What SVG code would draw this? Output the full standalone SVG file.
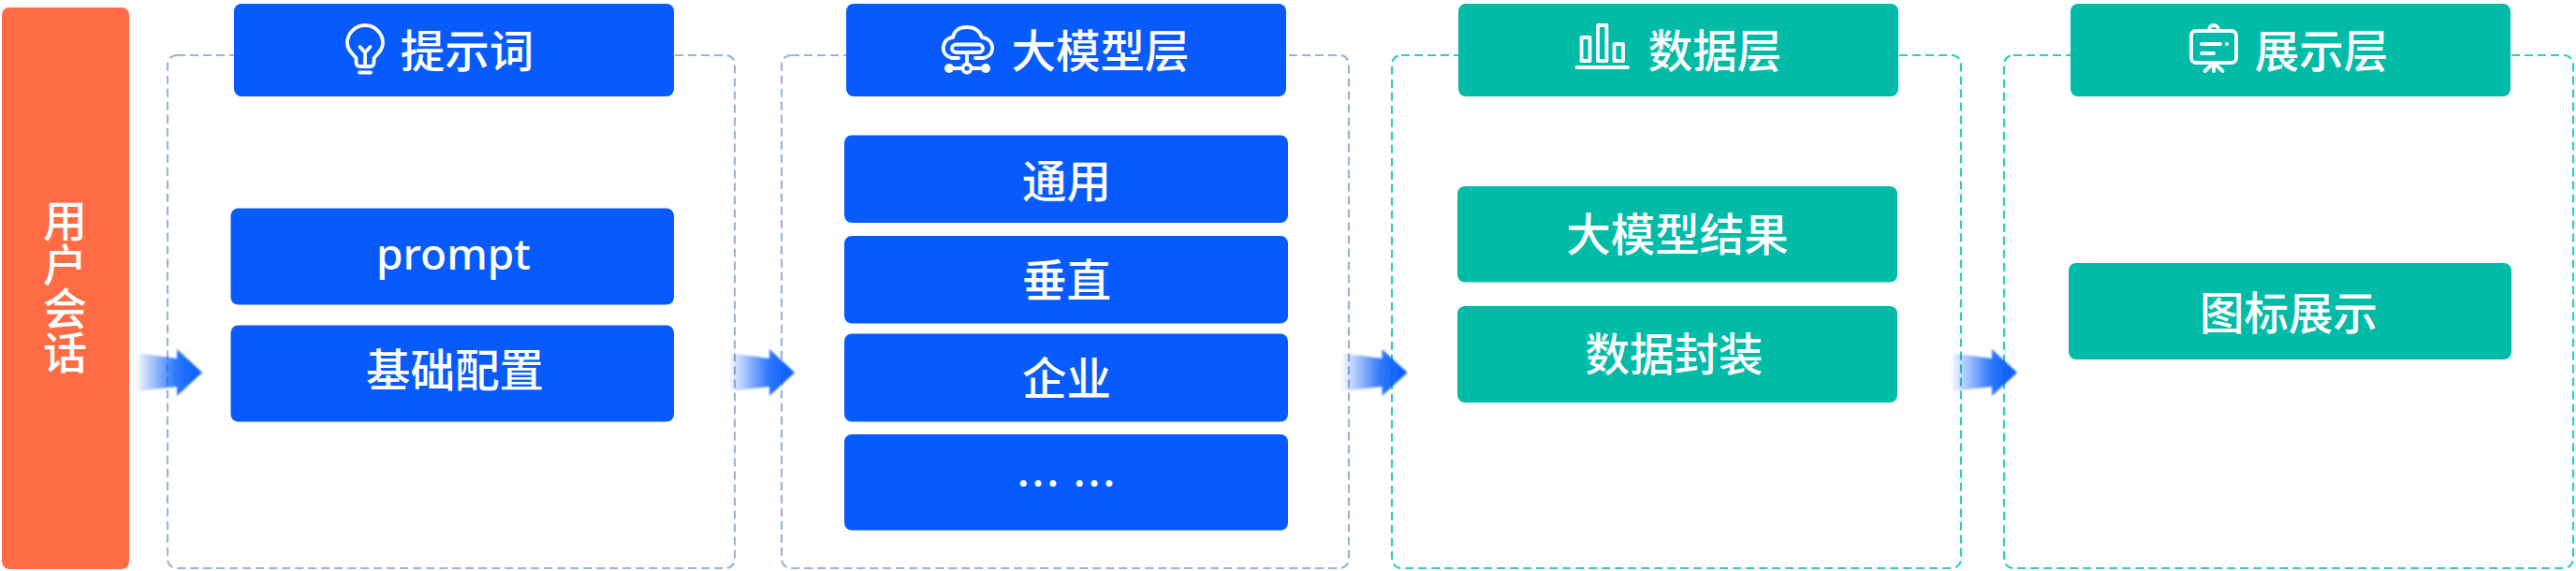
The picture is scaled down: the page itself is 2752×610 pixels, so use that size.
<svg xmlns="http://www.w3.org/2000/svg" width="2752" height="610" viewBox="0 0 2752 610">
<style>
text{font-family:"Noto Sans CJK SC","Noto Sans",sans-serif;font-size:47.500px;font-weight:500;fill:#fff;text-anchor:middle;dominant-baseline:central}
.b{fill:#075afb}.t{fill:#00bba8}
.fb{fill:none;stroke:#99b4d6;stroke-width:2.200;stroke-dasharray:9 5}
.ft{fill:none;stroke:#30cdba;stroke-width:2.200;stroke-dasharray:9 5}
.i{fill:none;stroke:#fff;stroke-width:3.800;stroke-linecap:round;stroke-linejoin:round}
.d{fill:#fff}
</style>
<defs>
<linearGradient id="ag" x1="0" x2="1" y1="0" y2="0">
<stop offset="0" stop-color="#075afb" stop-opacity="0"/>
<stop offset="0.15" stop-color="#075afb" stop-opacity="0.22"/>
<stop offset="0.6" stop-color="#075afb" stop-opacity="0.82"/>
<stop offset="1" stop-color="#075afb"/>
</linearGradient>
<filter id="soft" x="-10%" y="-10%" width="120%" height="120%"><feGaussianBlur stdDeviation="1"/></filter>
<path id="arrow" d="M0 -21 L44 -15 L44 -25 L71 0 L44 25 L44 15 L0 20 Z" fill="url(#ag)" filter="url(#soft)"/>
</defs>
<rect width="2752" height="610" fill="#fff"/>

<g id="user-session">
<rect x="2" y="8" width="136" height="600" rx="8" fill="#ff6b45"/>
<text x="69.500" y="306" style="writing-mode:vertical-rl;text-orientation:upright;font-size:47px;dominant-baseline:auto">用户会话</text>
</g>

<g id="prompt-layer">
<rect class="fb" x="179" y="59" width="606" height="548" rx="10"/>
<rect class="b" x="250" y="4" width="470" height="99" rx="8"/>
<g class="i">
<path d="M380.500 66.500 V62 C376 57 371 53 371 46 A19 19 0 0 1 409 46 C409 53 404 57 399.500 62 V66.500 Q399.500 71 395 71 H385 Q380.500 71 380.500 66.500 Z"/>
<path d="M390 70 V56 M384.500 50 L390 56 L395.500 50 M384 77.500 H396"/>
</g>
<text x="499" y="51">提示词</text>
<rect class="b" x="246.500" y="222.500" width="473.500" height="103" rx="8"/>
<text x="484.500" y="270" style="font-family:'Noto Sans',sans-serif;font-size:46px">prompt</text>
<rect class="b" x="246.500" y="347.500" width="473.500" height="103" rx="8"/>
<text x="486" y="392">基础配置</text>
</g>

<g id="model-layer">
<rect class="fb" x="835" y="59" width="606" height="548" rx="10"/>
<rect class="b" x="904" y="4" width="470" height="99" rx="8"/>
<g class="i">
<path d="M1017 62 C1009 60 1007 54 1008 49 C1009 43 1014 40 1018 40 C1019 32 1026 29 1033 29 C1041 29 1047 33 1049 40 C1054 40 1059 44 1060 49 C1061 55 1058 60 1051 62 H1042"/>
<path d="M1017 62 H1024"/>
<rect x="1017" y="47.500" width="33" height="8.500" rx="4.250"/>
<path d="M1033 56 V68 M1014 73 H1053"/>
<circle cx="1033" cy="73" r="4.500" fill="#075afb"/>
</g>
<circle class="d" cx="1014" cy="73" r="5"/><circle class="d" cx="1053" cy="73" r="5"/>
<text x="1175.500" y="51">大模型层</text>
<rect class="b" x="902" y="144.500" width="474" height="93.500" rx="8"/>
<text x="1139.500" y="190">通用</text>
<rect class="b" x="902" y="252" width="474" height="93.500" rx="8"/>
<text x="1139.500" y="296">垂直</text>
<rect class="b" x="902" y="356.500" width="474" height="94" rx="8"/>
<text x="1139.500" y="401">企业</text>
<rect class="b" x="902" y="464" width="474" height="102.500" rx="8"/>
<text x="1139" y="513" xml:space="preserve" style="word-spacing:2px">… …</text>
</g>

<g id="data-layer">
<rect class="ft" x="1487" y="59" width="608" height="548" rx="10"/>
<rect class="t" x="1558" y="4" width="470" height="99" rx="8"/>
<g class="i">
<rect x="1689.500" y="40" width="9" height="25"/>
<rect x="1707" y="27" width="9.500" height="38"/>
<rect x="1724.500" y="47" width="9.500" height="18"/>
<path d="M1684.500 72 H1739"/>
</g>
<text x="1832" y="51">数据层</text>
<rect class="t" x="1557" y="199" width="470" height="102.500" rx="8"/>
<text x="1792" y="247">大模型结果</text>
<rect class="t" x="1557" y="327" width="470" height="103" rx="8"/>
<text x="1788.500" y="375">数据封装</text>
</g>

<g id="display-layer">
<rect class="ft" x="2141" y="59" width="608" height="548" rx="10"/>
<rect class="t" x="2212" y="4" width="470" height="99" rx="8"/>
<g class="i">
<rect x="2341" y="33" width="48" height="34" rx="5"/>
<path d="M2360 32 A5 5 0 0 1 2370 32"/>
<path d="M2352 47 H2372 M2352 57 H2365 M2365 67 V76 M2365 67 L2355.500 76 M2365 67 L2374.500 76"/>
</g>
<circle class="d" cx="2379" cy="47" r="2"/>
<text x="2480" y="51">展示层</text>
<rect class="t" x="2210" y="281" width="473" height="103" rx="8"/>
<text x="2445" y="331">图标展示</text>
</g>

<g id="connectors">
<use href="#arrow" x="145" y="398"/>
<use href="#arrow" x="778" y="398"/>
<use href="#arrow" x="1432.500" y="398"/>
<use href="#arrow" x="2084" y="398"/>
</g>
</svg>
